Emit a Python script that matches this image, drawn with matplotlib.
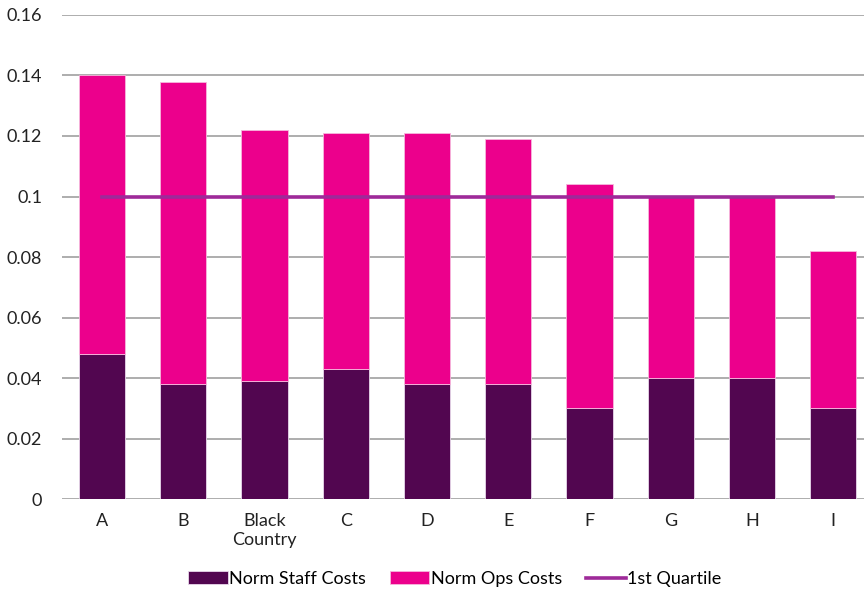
import numpy as np
import matplotlib
matplotlib.use("Agg")
import matplotlib.pyplot as plt

plt.rcParams["font.family"] = ["Lato", "DejaVu Sans"]

# Costes normalizados por región
regiones = ["A", "B", "Black\nCountry", "C", "D", "E", "F", "G", "H", "I"]
staff = [0.048, 0.038, 0.039, 0.043, 0.038, 0.038, 0.030, 0.040, 0.040, 0.030]
total = [0.140, 0.138, 0.122, 0.121, 0.121, 0.119, 0.104, 0.100, 0.100, 0.082]
ops = [t - s for t, s in zip(total, staff)]
cuartil = 0.10

fig = plt.figure(figsize=(8.64, 5.92), dpi=100)
ax = fig.add_axes([0.0712, 0.157, 0.9288, 0.8177])

x = np.arange(len(regiones))
b1 = ax.bar(x, staff, width=0.57, color="#520650", edgecolor="#e8d8ea", linewidth=0.6,
            label="Norm Staff Costs", zorder=2)
b2 = ax.bar(x, ops, width=0.57, bottom=staff, color="#EC008C", edgecolor="#f6b8dc",
            linewidth=0.6, label="Norm Ops Costs", zorder=2)
l1, = ax.plot(x, [cuartil] * len(x), color="#9E2A99", linewidth=2.6,
              label="1st Quartile", zorder=3)

ax.set_ylim(0, 0.16)
ax.set_xlim(-0.5, 9.38)
ax.set_yticks(np.arange(0, 0.161, 0.02))
ax.set_yticklabels(["0", "0.02", "0.04", "0.06", "0.08", "0.1", "0.12", "0.14", "0.16"])
ax.set_xticks(x)
ax.set_xticklabels(regiones, linespacing=1.2)
ax.tick_params(axis="both", length=0, labelsize=13, colors="#222222")
ax.tick_params(axis="x", pad=10)
ax.tick_params(axis="y", pad=14)
ax.yaxis.grid(True, color="#a0a0a0", linewidth=1.2, zorder=0)
for s in ax.spines.values():
    s.set_visible(False)

ax.legend([b1, b2, l1], ["Norm Staff Costs", "Norm Ops Costs", "1st Quartile"],
          loc="upper center", bbox_to_anchor=(0.49, -0.115), ncol=3, frameon=False,
          fontsize=13, handlelength=2.2, handleheight=0.7, handletextpad=0.1,
          columnspacing=1.3)

plt.savefig("out.png", dpi=100)
plt.close()
